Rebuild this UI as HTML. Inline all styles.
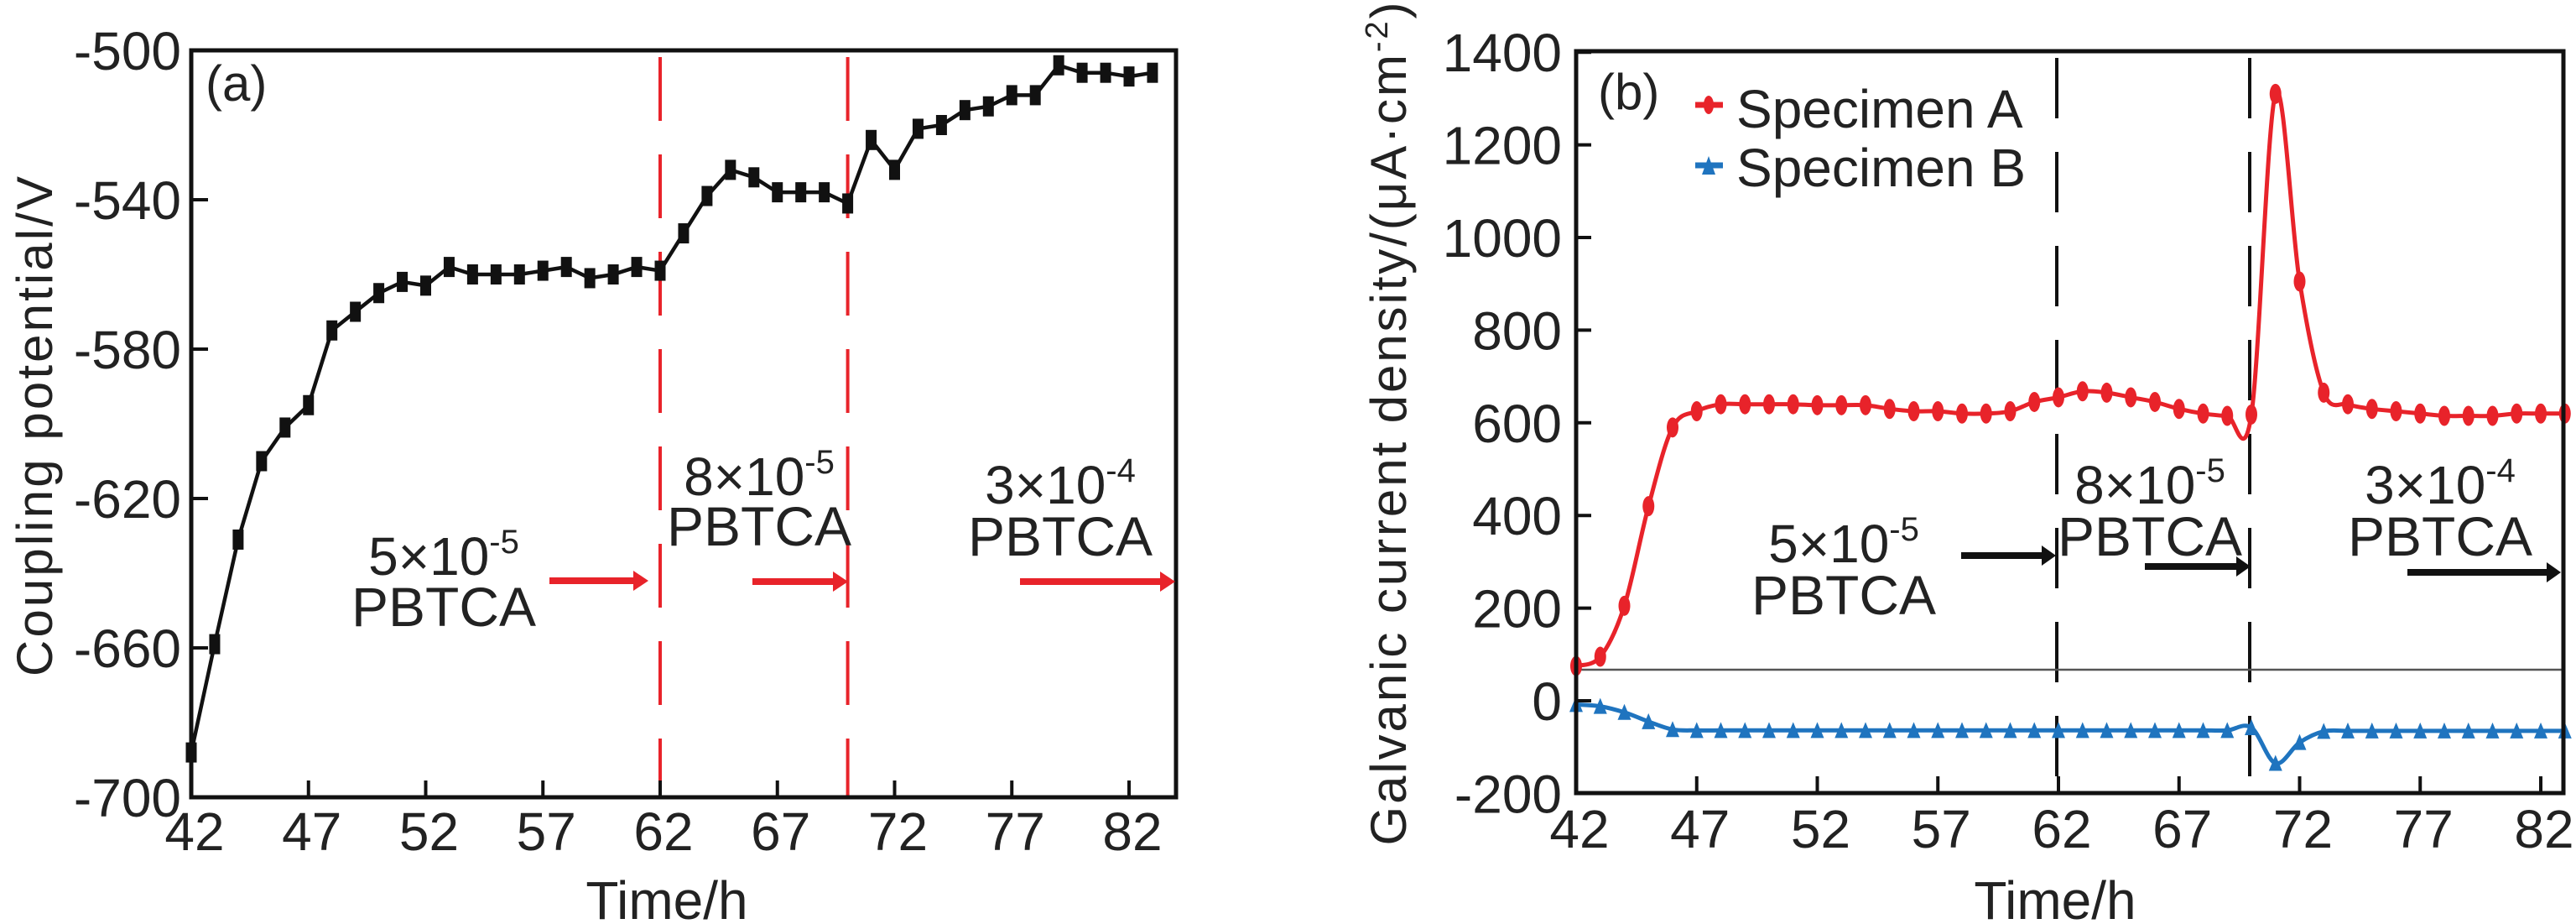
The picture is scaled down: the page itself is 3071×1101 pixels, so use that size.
<!DOCTYPE html>
<html><head><meta charset="utf-8"><style>
html,body{margin:0;padding:0;background:#fff;}
svg{display:block;font-family:"Liberation Sans",Arial,sans-serif;}
</style></head><body>
<svg id="fig" width="3071" height="1101" viewBox="0 0 3071 1101" xmlns="http://www.w3.org/2000/svg">
<g id="pa"></g>
<g id="pb"></g>
</svg>
<script>
const hours = [42,43,44,45,46,47,48,49,50,51,52,53,54,55,56,57,58,59,60,61,62,63,64,65,66,67,68,69,70,71,72,73,74,75,76,77,78,79,80,81,82,83];
const potential = [-688,-659,-631,-610,-601,-595,-575,-570,-565,-562,-563,-558,-560,-560,-560,-559,-558,-561,-560,-558,-559,-549,-539,-532,-534,-538,-538,-538,-541,-524,-532,-521,-520,-516,-515,-512,-512,-504,-506,-506,-507,-506];
const currentA = [75,95,205,420,590,625,640,640,640,640,638,638,638,630,625,625,620,620,625,645,655,668,665,655,645,630,620,615,618,1310,905,665,640,630,625,620,615,615,615,620,620,620];
const currentB = [-8,-12,-25,-45,-62,-64,-64,-64,-64,-64,-64,-64,-64,-64,-64,-64,-64,-64,-64,-64,-64,-64,-64,-64,-64,-64,-64,-64,-58,-135,-90,-66,-65,-65,-65,-65,-65,-65,-65,-65,-65,-65];
const xTicks = [42,47,52,57,62,67,72,77,82];
const yTicksA = [-500,-540,-580,-620,-660,-700];
const yTicksB = [1400,1200,1000,800,600,400,200,0,-200];
const dosingTimes = [62,70];

const NS='http://www.w3.org/2000/svg';
function mk(parent,tag,attrs,text){const e=document.createElementNS(NS,tag);for(const k in attrs)e.setAttribute(k,attrs[k]);if(text!==undefined)e.textContent=text;parent.appendChild(e);return e;}

// ---------- Panel A ----------
const pa=document.getElementById('pa');
const A={x0:228,x1:1402,y0:60,y1:950};
const xa=v=>228+(v-42)*27.95;
const ya=v=>60+(-500-v)*4.45;
dosingTimes.forEach(t=>{
 const l=mk(pa,'line',{x1:xa(t),x2:xa(t),y1:A.y0+8,y2:A.y1,stroke:'#e8232a','stroke-width':4,'stroke-dasharray':'76 40'});
 
 
});
let d='';hours.forEach((h,i)=>{d+=(i?'L':'M')+xa(h).toFixed(1)+','+ya(potential[i]).toFixed(1);});
const la=mk(pa,'path',{d:d,fill:'none',stroke:'#111','stroke-width':4.5});


hours.forEach((h,i)=>{
 const r=mk(pa,'rect',{x:xa(h)-6.5,y:ya(potential[i])-12,width:13,height:24,fill:'#111'});
 
 
});
const ba=mk(pa,'rect',{x:A.x0,y:A.y0,width:A.x1-A.x0,height:A.y1-A.y0,fill:'none',stroke:'#111','stroke-width':5});


xTicks.forEach(t=>{
 mk(pa,'line',{x1:xa(t),x2:xa(t),y1:A.y1,y2:A.y1-20,stroke:'#111','stroke-width':4});
 const tx=mk(pa,'text',{x:xa(t)+4,y:1013,'font-size':64,'text-anchor':'middle',fill:'#222'},t);
 
 
});
yTicksA.forEach(t=>{
 mk(pa,'line',{x1:A.x0,x2:A.x0+20,y1:ya(t),y2:ya(t),stroke:'#111','stroke-width':4});
 const tx=mk(pa,'text',{x:216,y:ya(t)+23,'font-size':64,'text-anchor':'end',fill:'#222'},t);
 
 
});
// ---------- Panel B ----------
const pb=document.getElementById('pb');
const B={x0:1879,x1:3056,y0:61,y1:945};
const xb=v=>1879+(v-42)*28.75;
const yb=v=>835-v*0.552;
dosingTimes.forEach(t=>{
 const l=mk(pb,'line',{x1:xb(t)-2,x2:xb(t)-2,y1:B.y0+8,y2:B.y1,stroke:'#111','stroke-width':4,'stroke-dasharray':'72 40'});
 
 
});
const gl=mk(pb,'line',{x1:B.x0,x2:B.x1,y1:798,y2:798,stroke:'#555','stroke-width':2.5});


function smooth(xs,ys){let p='M'+xs[0]+','+ys[0];for(let i=0;i<xs.length-1;i++){const x0=xs[Math.max(0,i-1)],y0=ys[Math.max(0,i-1)],x1=xs[i],y1=ys[i],x2=xs[i+1],y2=ys[i+1],x3=xs[Math.min(xs.length-1,i+2)],y3=ys[Math.min(xs.length-1,i+2)];const k=6;p+='C'+(x1+(x2-x0)/k).toFixed(1)+','+(y1+(y2-y0)/k).toFixed(1)+' '+(x2-(x3-x1)/k).toFixed(1)+','+(y2-(y3-y1)/k).toFixed(1)+' '+x2.toFixed(1)+','+y2.toFixed(1);}return p;}
const XB=hours.map(xb);
const lA=mk(pb,'path',{d:smooth(XB,currentA.map(yb)),fill:'none',stroke:'#e8232a','stroke-width':5});


const lB=mk(pb,'path',{d:smooth(XB,currentB.map(yb)),fill:'none',stroke:'#1f74bf','stroke-width':5});


hours.forEach((h,i)=>{
 const e=mk(pb,'ellipse',{cx:xb(h),cy:yb(currentA[i]),rx:7,ry:12,fill:'#e8232a'});
 
 
 const x=xb(h),y=yb(currentB[i]);
 const t=mk(pb,'path',{d:`M${x-8},${y+9} L${x},${y-10} L${x+8},${y+9} z`,fill:'#1f74bf'});
 
 
});
const bb=mk(pb,'rect',{x:B.x0,y:B.y0,width:B.x1-B.x0,height:B.y1-B.y0,fill:'none',stroke:'#111','stroke-width':5});


xTicks.forEach(t=>{
 mk(pb,'line',{x1:xb(t),x2:xb(t),y1:B.y1,y2:B.y1-20,stroke:'#111','stroke-width':4});
 const tx=mk(pb,'text',{x:xb(t)+4,y:1010,'font-size':64,'text-anchor':'middle',fill:'#222'},t);
 
 
});
yTicksB.forEach(t=>{
 mk(pb,'line',{x1:B.x0,x2:B.x0+18,y1:yb(t),y2:yb(t),stroke:'#111','stroke-width':4});
 const tx=mk(pb,'text',{x:1862,y:yb(t)+23,'font-size':64,'text-anchor':'end',fill:'#222'},t);
 
 
});
</script>
<svg width="3071" height="1101" viewBox="0 0 3071 1101" style="position:absolute;left:0;top:0" xmlns="http://www.w3.org/2000/svg" font-family="Liberation Sans, Arial, sans-serif" fill="#222">
<text x="245" y="120" font-size="60">(a)</text>
<text x="1905" y="130" font-size="60">(b)</text>
<text transform="translate(62,508) rotate(-90)" font-size="60" text-anchor="middle" textLength="596">Coupling potential/V</text>
<text transform="translate(1676,505) rotate(-90)" font-size="60" text-anchor="middle" textLength="1005">Galvanic current density/(μA·cm<tspan font-size="38" dy="-22">-2</tspan><tspan dy="22">)</tspan></text>
<text x="795" y="1095" font-size="64" text-anchor="middle">Time/h</text>
<text x="2450" y="1095" font-size="64" text-anchor="middle">Time/h</text>
<g>
<g><line x1="2021" x2="2054" y1="125" y2="125" stroke="#e8232a" stroke-width="7"/><ellipse cx="2037" cy="125" rx="6" ry="11" fill="#e8232a"/><text x="2070" y="152" font-size="64">Specimen A</text></g>
<g><line x1="2021" x2="2054" y1="197" y2="197" stroke="#1f74bf" stroke-width="7"/><path d="M2029,208 L2037,186 L2045,208 z" fill="#1f74bf"/><text x="2070" y="222" font-size="64">Specimen B</text></g>
</g>
<g><text x="529" y="685" font-size="64" text-anchor="middle">5×10<tspan font-size="40" dy="-26">-5</tspan></text><text x="529" y="746" font-size="66" text-anchor="middle">PBTCA</text></g>
<g><text x="905" y="590" font-size="64" text-anchor="middle">8×10<tspan font-size="40" dy="-26">-5</tspan></text><text x="905" y="650" font-size="66" text-anchor="middle">PBTCA</text></g>
<g><text x="1264" y="600" font-size="64" text-anchor="middle">3×10<tspan font-size="40" dy="-26">-4</tspan></text><text x="1264" y="662" font-size="66" text-anchor="middle">PBTCA</text></g>
<line x1="655" y1="692" x2="762" y2="692" stroke="#e8232a" stroke-width="8"/>
<path d="M755,680 L773,692 L755,704 z" fill="#e8232a"/>
<line x1="897" y1="693" x2="1000" y2="693" stroke="#e8232a" stroke-width="8"/>
<path d="M993,681 L1011,693 L993,705 z" fill="#e8232a"/>
<line x1="1216" y1="693" x2="1390" y2="693" stroke="#e8232a" stroke-width="8"/>
<path d="M1383,681 L1401,693 L1383,705 z" fill="#e8232a"/>
<g><text x="2198" y="670" font-size="64" text-anchor="middle">5×10<tspan font-size="40" dy="-26">-5</tspan></text><text x="2198" y="732" font-size="66" text-anchor="middle">PBTCA</text></g>
<g><text x="2563" y="600" font-size="64" text-anchor="middle">8×10<tspan font-size="40" dy="-26">-5</tspan></text><text x="2563" y="662" font-size="66" text-anchor="middle">PBTCA</text></g>
<g><text x="2909" y="600" font-size="64" text-anchor="middle">3×10<tspan font-size="40" dy="-26">-4</tspan></text><text x="2909" y="662" font-size="66" text-anchor="middle">PBTCA</text></g>
<line x1="2338" y1="662" x2="2440" y2="662" stroke="#111" stroke-width="8"/>
<path d="M2434,650 L2451,662 L2434,674 z" fill="#111"/>
<line x1="2557" y1="675" x2="2672" y2="675" stroke="#111" stroke-width="8"/>
<path d="M2666,663 L2683,675 L2666,687 z" fill="#111"/>
<line x1="2870" y1="682" x2="3042" y2="682" stroke="#111" stroke-width="8"/>
<path d="M3036,670 L3053,682 L3036,694 z" fill="#111"/>
</svg>
</body></html>
